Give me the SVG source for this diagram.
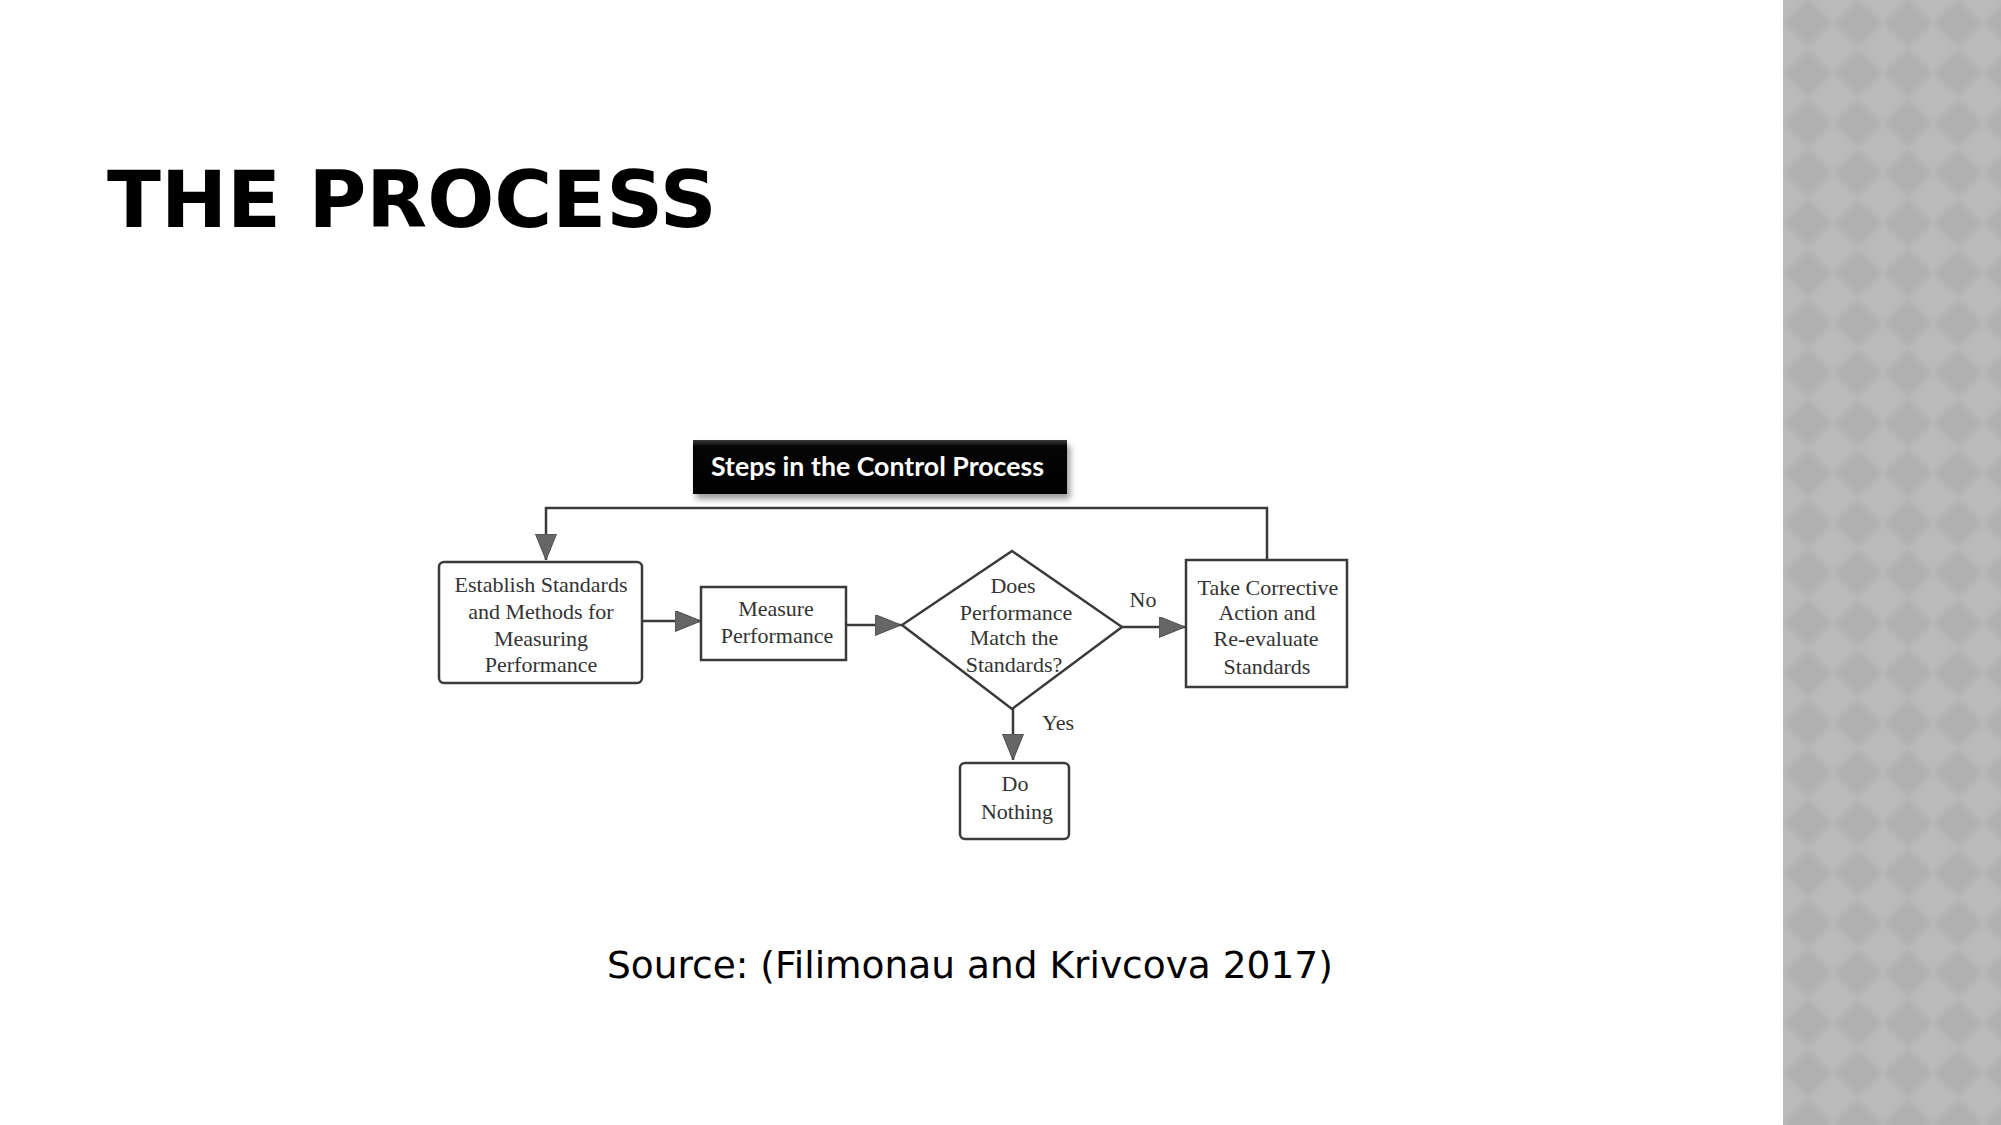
<svg xmlns="http://www.w3.org/2000/svg" width="2001" height="1125" viewBox="0 0 2001 1125">
  <defs>
    <style>
      .box { fill: #ffffff; stroke: #3a3a3a; stroke-width: 2.5; }
      .conn { fill: none; stroke: #3a3a3a; stroke-width: 2.5; }
      .lbl { font-family: "Liberation Serif", "Times New Roman", serif; font-size: 22px; fill: #333333; text-anchor: middle; }
      .title { font-family: "DejaVu Sans", sans-serif; font-weight: bold; font-size: 79px; fill: #000000; }
      .src { font-family: "DejaVu Sans", sans-serif; font-size: 37.5px; fill: #000000; }
      .hdr { font-family: Lato, "Liberation Sans", sans-serif; font-weight: bold; font-size: 26px; fill: #ffffff; }
    </style>
    <marker id="arr" markerUnits="userSpaceOnUse" markerWidth="27" markerHeight="22" refX="26" refY="10.5" orient="auto">
      <path d="M0,0 L26,10.5 L0,21 z" fill="#666666" stroke="#4a4a4a" stroke-width="1"/>
    </marker>
    <pattern id="dia" patternUnits="userSpaceOnUse" x="1783" y="-2" width="50" height="50">
      <rect width="50" height="50" fill="#bababa"/>
      <polygon points="25,1 49,25 25,49 1,25" fill="#b0b0b0"/>
    </pattern>
    <filter id="soft" filterUnits="userSpaceOnUse" x="1740" y="-60" width="320" height="1250">
      <feGaussianBlur stdDeviation="2.5"/>
    </filter>
    <clipPath id="stripclip">
      <rect x="1783" y="0" width="218" height="1125"/>
    </clipPath>
    <linearGradient id="hdrg" x1="0" y1="0" x2="0" y2="1">
      <stop offset="0" stop-color="#3c3c3c"/>
      <stop offset="0.12" stop-color="#050505"/>
      <stop offset="1" stop-color="#000000"/>
    </linearGradient>
    <filter id="shadow" x="-10%" y="-30%" width="120%" height="180%">
      <feGaussianBlur stdDeviation="3"/>
    </filter>
  </defs>

  <rect width="2001" height="1125" fill="#ffffff"/>
  <g clip-path="url(#stripclip)">
    <rect x="1760" y="-30" width="270" height="1185" fill="url(#dia)" filter="url(#soft)"/>
  </g>

  <text class="title" x="107" y="227">THE PROCESS</text>

  <g id="header">
    <rect x="696" y="445" width="374" height="54" fill="#9a9a9a" filter="url(#shadow)"/>
    <rect x="693" y="440" width="374" height="54" fill="url(#hdrg)"/>
    <text class="hdr" x="711" y="476" textLength="333" lengthAdjust="spacingAndGlyphs">Steps in the Control Process</text>
  </g>

  <g id="connectors">
    <polyline class="conn" points="1267,559 1267,508 546,508 546,560" marker-end="url(#arr)"/>
    <line class="conn" x1="642" y1="621" x2="701" y2="621" marker-end="url(#arr)"/>
    <line class="conn" x1="846" y1="625" x2="901" y2="625" marker-end="url(#arr)"/>
    <line class="conn" x1="1122" y1="627" x2="1185" y2="627" marker-end="url(#arr)"/>
    <line class="conn" x1="1013" y1="709" x2="1013" y2="760" marker-end="url(#arr)"/>
    <text class="lbl" x="1143" y="607">No</text>
    <text class="lbl" x="1058" y="730">Yes</text>
  </g>

  <g id="establish">
    <rect class="box" x="439" y="562" width="203" height="121" rx="5"/>
    <text class="lbl" x="541" y="592">Establish Standards</text>
    <text class="lbl" x="541" y="619">and Methods for</text>
    <text class="lbl" x="541" y="646">Measuring</text>
    <text class="lbl" x="541" y="672">Performance</text>
  </g>

  <g id="measure">
    <rect class="box" x="701" y="587" width="145" height="73"/>
    <text class="lbl" x="776" y="616">Measure</text>
    <text class="lbl" x="777" y="643">Performance</text>
  </g>

  <g id="decision">
    <polygon class="box" points="1012,551 1122,627 1012,709 902,625"/>
    <text class="lbl" x="1013" y="593">Does</text>
    <text class="lbl" x="1016" y="620">Performance</text>
    <text class="lbl" x="1014" y="645">Match the</text>
    <text class="lbl" x="1014" y="672">Standards?</text>
  </g>

  <g id="corrective">
    <rect class="box" x="1186" y="560" width="161" height="127"/>
    <text class="lbl" x="1268" y="595">Take Corrective</text>
    <text class="lbl" x="1267" y="620">Action and</text>
    <text class="lbl" x="1266" y="646">Re-evaluate</text>
    <text class="lbl" x="1267" y="674">Standards</text>
  </g>

  <g id="nothing">
    <rect class="box" x="960" y="763" width="109" height="76" rx="5"/>
    <text class="lbl" x="1015" y="791">Do</text>
    <text class="lbl" x="1017" y="819">Nothing</text>
  </g>

  <text class="src" x="607" y="978">Source: (Filimonau and Krivcova 2017)</text>
</svg>
